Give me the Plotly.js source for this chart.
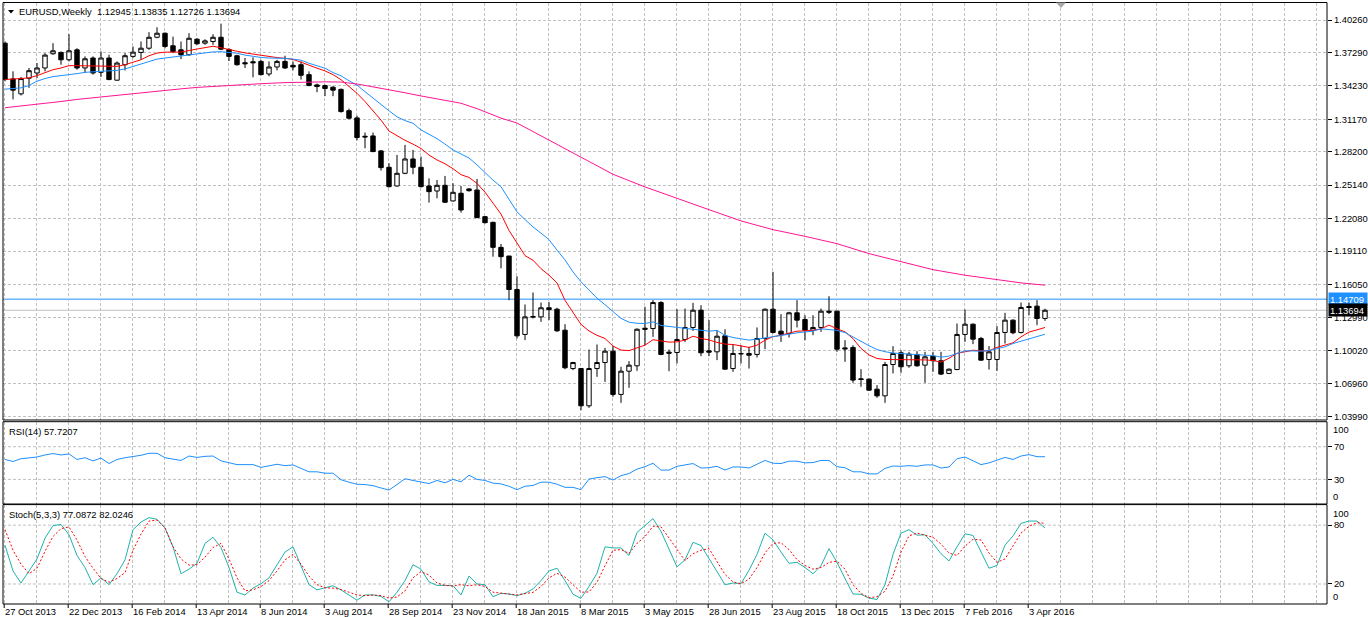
<!DOCTYPE html>
<html><head><meta charset="utf-8">
<script src="https://cdn.plot.ly/plotly-3.0.1.min.js"></script>
<style>html,body{margin:0;padding:0;background:#fff;overflow:hidden}#chart{width:1368px;height:617px}</style>
</head><body><div id="chart"></div>
<script>
// ---------------- DATA ----------------
const symbolName = 'EURUSD,Weekly';
const dateLabels = ['27 Oct 2013','22 Dec 2013','16 Feb 2014','13 Apr 2014','8 Jun 2014','3 Aug 2014','28 Sep 2014','23 Nov 2014','18 Jan 2015','8 Mar 2015','3 May 2015','28 Jun 2015','23 Aug 2015','18 Oct 2015','13 Dec 2015','7 Feb 2016','3 Apr 2016'];
const opens = [
1.3814,1.3487,1.3350,1.3493,1.3541,1.3587,1.3717,1.3729,1.3662,1.3753,
1.3587,1.3678,1.3547,1.3678,1.3475,1.3617,1.3693,1.3729,1.3768,1.3868,
1.3905,1.3790,1.3753,1.3708,1.3850,1.3814,1.3829,1.3868,1.3756,1.3699,
1.3635,1.3644,1.3647,1.3532,1.3596,1.3647,1.3611,1.3617,1.3526,1.3432,
1.3426,1.3411,1.3391,1.3196,1.3130,1.2962,1.2965,1.2828,1.2678,1.2507,
1.2623,1.2754,1.2678,1.2507,1.2461,1.2513,1.2370,1.2440,1.2480,1.2470,
1.2226,1.2174,1.1945,1.1866,1.1559,1.1148,1.1306,1.1309,1.1392,1.1379,
1.1187,1.0836,1.0836,1.0495,1.0836,1.0891,1.0995,1.0599,1.0812,1.0861,
1.1205,1.1202,1.1440,1.0986,1.0983,1.1102,1.1212,1.1370,1.0998,1.0989,
1.1135,1.0836,1.0974,1.0974,1.0965,1.1111,1.1379,1.1178,1.1157,1.1346,
1.1285,1.1187,1.1212,1.1361,1.1361,1.1025,1.1029,1.0742,1.0739,1.0647,
1.0586,1.0873,1.0980,1.0861,1.0965,1.0867,1.0949,1.0907,1.0791,1.0827,
1.1148,1.1242,1.1111,1.0919,1.0919,1.1166,1.1279,1.1166,1.1404,1.1407,
1.12945];
const highs = [
1.3830,1.3556,1.3505,1.3587,1.3632,1.3723,1.3814,1.3738,1.3896,1.3768,
1.3693,1.3693,1.3738,1.3708,1.3647,1.3723,1.3784,1.3829,1.3914,1.3959,
1.3911,1.3874,1.3829,1.3905,1.3859,1.3850,1.3896,1.3993,1.3768,1.3708,
1.3678,1.3684,1.3662,1.3647,1.3662,1.3699,1.3647,1.3647,1.3556,1.3444,
1.3435,1.3420,1.3399,1.3215,1.3150,1.2996,1.2996,1.2837,1.2715,1.2791,
1.2883,1.2837,1.2776,1.2577,1.2562,1.2599,1.2532,1.2507,1.2486,1.2571,
1.2232,1.2180,1.1976,1.1866,1.1681,1.1422,1.1532,1.1440,1.1446,1.1392,
1.1242,1.0897,1.0842,1.1010,1.1056,1.1025,1.1044,1.0852,1.0904,1.1202,
1.1401,1.1462,1.1453,1.1010,1.1379,1.1385,1.1437,1.1416,1.1279,1.1187,
1.1196,1.1056,1.1050,1.1035,1.1212,1.1385,1.1721,1.1334,1.1355,1.1462,
1.1324,1.1324,1.1385,1.1498,1.1364,1.1096,1.1050,1.0830,1.0745,1.0684,
1.0897,1.1041,1.1004,1.0989,1.0995,1.0989,1.0989,1.0989,1.0836,1.1248,
1.1376,1.1248,1.1126,1.1041,1.1224,1.1346,1.1285,1.1440,1.1440,1.1462,
1.13835];
const lows = [
1.3465,1.3299,1.3335,1.3405,1.3496,1.3556,1.3708,1.3617,1.3647,1.3571,
1.3541,1.3526,1.3505,1.3475,1.3472,1.3565,1.3678,1.3662,1.3753,1.3859,
1.3768,1.3723,1.3668,1.3699,1.3799,1.3799,1.3799,1.3750,1.3650,1.3608,
1.3587,1.3502,1.3520,1.3511,1.3565,1.3578,1.3565,1.3481,1.3420,1.3365,
1.3329,1.3329,1.3178,1.3117,1.2925,1.2852,1.2816,1.2648,1.2492,1.2501,
1.2614,1.2614,1.2492,1.2355,1.2394,1.2355,1.2364,1.2263,1.2455,1.2214,
1.2165,1.1860,1.1753,1.1462,1.1111,1.1096,1.1294,1.1263,1.1279,1.1172,
1.0830,1.0821,1.0455,1.0476,1.0760,1.0714,1.0577,1.0522,1.0660,1.0815,
1.1050,1.1126,1.0958,1.0812,1.0882,1.1080,1.1181,1.0949,1.0949,1.0913,
1.0827,1.0806,1.0882,1.0836,1.0937,1.1013,1.1157,1.1080,1.1120,1.1212,
1.1096,1.1141,1.1172,1.1334,1.0989,1.0897,1.0705,1.0669,1.0632,1.0568,
1.0522,1.0791,1.0797,1.0843,1.0852,1.0705,1.0806,1.0776,1.0785,1.0821,
1.1080,1.1059,1.0907,1.0827,1.0815,1.1065,1.1150,1.1157,1.1324,1.1233,
1.12726];
const closes = [
1.3481,1.3384,1.3490,1.3562,1.3587,1.3705,1.3744,1.3662,1.3744,1.3587,
1.3671,1.3541,1.3678,1.3481,1.3632,1.3699,1.3732,1.3768,1.3868,1.3905,
1.3784,1.3738,1.3708,1.3859,1.3808,1.3835,1.3868,1.3759,1.3693,1.3617,
1.3626,1.3635,1.3526,1.3596,1.3647,1.3587,1.3596,1.3520,1.3426,1.3417,
1.3399,1.3384,1.3188,1.3127,1.2950,1.2956,1.2822,1.2675,1.2501,1.2623,
1.2754,1.2678,1.2501,1.2455,1.2513,1.2358,1.2449,1.2287,1.2464,1.2217,
1.2171,1.1945,1.1860,1.1559,1.1135,1.1309,1.1312,1.1392,1.1376,1.1181,
1.0843,1.0891,1.0495,1.0836,1.0891,1.0995,1.0599,1.0812,1.0867,1.1196,
1.1196,1.1440,1.0965,1.0977,1.1102,1.1212,1.1370,1.0980,1.0986,1.1132,
1.0830,1.0974,1.0971,1.0958,1.1111,1.1379,1.1166,1.1150,1.1346,1.1279,
1.1187,1.1212,1.1361,1.1352,1.1013,1.1016,1.0730,1.0736,1.0638,1.0586,
1.0873,1.0974,1.0852,1.0968,1.0861,1.0943,1.0907,1.0785,1.0830,1.1148,
1.1242,1.1105,1.0913,1.0989,1.1166,1.1279,1.1163,1.1395,1.1395,1.1294,
1.13694];
// red moving average (fast)
const maFast = [
1.3481,1.3484,1.3487,1.3496,1.3517,1.3547,1.3571,1.3587,1.3608,1.3608,
1.3608,1.3608,1.3608,1.3602,1.3602,1.3617,1.3641,1.3662,1.3699,1.3723,
1.3732,1.3732,1.3732,1.3747,1.3762,1.3775,1.3786,1.3772,1.3759,1.3740,
1.3725,1.3714,1.3700,1.3690,1.3682,1.3675,1.3665,1.3640,1.3610,1.3585,
1.3560,1.3526,1.3480,1.3420,1.3355,1.3280,1.3200,1.3110,1.3010,1.2965,
1.2925,1.2890,1.2850,1.2790,1.2745,1.2710,1.2665,1.2610,1.2585,1.2530,
1.2450,1.2350,1.2250,1.2100,1.1980,1.1870,1.1827,1.1750,1.1690,1.1620,
1.1460,1.1345,1.1240,1.1180,1.1140,1.1111,1.1041,1.1005,1.1000,1.1025,
1.1050,1.1100,1.1090,1.1078,1.1080,1.1096,1.1132,1.1111,1.1098,1.1075,
1.1060,1.1056,1.1043,1.1029,1.1050,1.1095,1.1128,1.1140,1.1160,1.1178,
1.1181,1.1185,1.1200,1.1233,1.1200,1.1172,1.1110,1.1020,1.0960,1.0928,
1.0919,1.0919,1.0919,1.0919,1.0919,1.0915,1.0910,1.0895,1.0930,1.0975,
1.0989,1.1004,1.0998,1.0998,1.1030,1.1050,1.1071,1.1126,1.1170,1.1190,
1.1212];
// blue moving average (medium)
const maMid = [
1.3393,1.3396,1.3405,1.3426,1.3466,1.3490,1.3508,1.3517,1.3523,1.3535,
1.3547,1.3553,1.3556,1.3562,1.3565,1.3578,1.3602,1.3623,1.3647,1.3668,
1.3678,1.3687,1.3693,1.3702,1.3716,1.3726,1.3734,1.3736,1.3732,1.3722,
1.3705,1.3693,1.3683,1.3678,1.3678,1.3675,1.3668,1.3658,1.3630,1.3605,
1.3585,1.3545,1.3515,1.3470,1.3430,1.3370,1.3310,1.3250,1.3195,1.3140,
1.3105,1.3081,1.3020,1.2980,1.2940,1.2890,1.2837,1.2800,1.2763,1.2700,
1.2630,1.2560,1.2500,1.2380,1.2270,1.2200,1.2132,1.2075,1.2016,1.1920,
1.1830,1.1720,1.1630,1.1555,1.1480,1.1420,1.1360,1.1295,1.1260,1.1250,
1.1248,1.1263,1.1230,1.1222,1.1212,1.1205,1.1196,1.1188,1.1178,1.1185,
1.1140,1.1120,1.1108,1.1096,1.1105,1.1115,1.1126,1.1138,1.1150,1.1163,
1.1170,1.1178,1.1200,1.1190,1.1185,1.1165,1.1126,1.1080,1.1045,1.1010,
1.0990,1.0978,1.0972,1.0965,1.0958,1.0958,1.0955,1.0940,1.0950,1.0975,
1.0998,1.0997,1.0995,1.1000,1.1015,1.1035,1.1065,1.1085,1.1111,1.1130,
1.1150];
// magenta moving average (slow), read at these bars
const maSlowBars = [0,2,5,7,9,12,14,17,19,22,24,27,29,32,35,37,40,42,44,46,48,50,52,54,57,59,62,64,68,72,76,80,84,88,92,96,100,104,108,112,116,120,124,127,130];
const maSlow = [1.3223,1.3238,1.3262,1.3280,1.3299,1.3322,1.3341,1.3362,1.3378,1.3396,1.3409,1.3423,1.3430,1.3443,1.3453,1.3458,1.3460,1.3458,1.3440,1.3414,1.3390,1.3360,1.3331,1.3306,1.3264,1.3215,1.3128,1.3083,1.2925,1.2766,1.2614,1.2498,1.2391,1.2290,1.2187,1.2107,1.2046,1.1979,1.1888,1.1812,1.1741,1.1690,1.1651,1.1620,1.1599];
const rsi = [
54.4,51.9,55.3,56.5,57.4,59.9,61.6,59.9,61.2,54.4,
56.5,52.7,56.1,49.4,54.4,56.5,57.8,59.5,62.0,62.0,
56.5,55.3,53.2,58.6,56.9,58.2,58.6,52.7,50.6,48.1,
48.1,48.1,44.7,46.8,48.5,46.8,47.7,43.5,39.3,39.3,
37.6,37.6,29.6,26.6,24.1,23.7,22.4,19.5,17.0,23.7,
30.8,28.7,26.6,24.9,28.7,25.8,30.0,27.1,35.1,30.0,
28.7,25.4,24.5,21.6,17.4,21.6,22.6,26.6,26.6,24.1,
20.3,20.3,17.4,30.4,32.1,33.4,29.2,34.6,37.2,42.6,
45.6,49.8,41.4,41.4,46.0,48.1,49.4,43.9,44.3,46.0,
41.4,45.2,45.2,43.9,48.1,53.2,49.8,49.4,52.3,52.3,
50.2,50.6,53.2,53.2,45.6,44.3,39.3,39.3,36.7,36.7,
43.5,46.4,46.0,46.8,46.0,47.7,47.7,43.9,45.2,55.3,
57.4,52.7,48.1,50.2,53.6,56.9,54.4,58.6,60.3,57.8,
57.7207];
const stochMain = [
59.6,33.3,21.0,33.3,45.6,66.7,79.6,80.7,70.2,49.1,
36.8,19.3,26.3,19.3,30.5,44.6,75.4,83.2,87.7,86.0,
77.2,57.9,30.5,35.1,41.1,61.4,67.7,57.2,36.8,11.6,
8.8,15.8,20.3,26.3,39.6,52.6,57.9,38.6,19.3,14.0,
15.8,18.2,14.0,8.8,3.5,8.8,8.8,7.4,1.8,11.6,
23.5,39.6,35.1,22.1,18.6,18.6,18.2,8.8,28.1,20.0,
19.3,7.0,10.5,9.8,8.1,10.5,15.0,23.5,33.3,36.1,
23.5,9.5,5.3,17.5,30.9,57.9,56.8,56.8,49.1,72.6,
80.0,86.7,73.7,55.4,37.5,44.6,62.5,59.3,46.3,32.3,
19.3,21.0,20.3,34.0,50.2,71.9,64.9,52.6,41.1,42.1,
36.8,30.5,38.6,56.1,42.1,25.6,9.8,9.5,5.6,4.2,
19.3,50.2,71.9,75.4,69.8,70.2,61.4,50.9,43.5,57.9,
71.2,69.5,52.6,36.1,38.9,59.6,69.1,81.8,84.2,84.2,
77.0872];
const stochSignal = [
75.4,54.4,40.3,30.5,36.1,53.3,68.4,76.5,78.2,64.9,
48.1,36.1,25.6,21.8,25.6,31.6,54.4,70.9,84.2,85.3,
77.2,57.9,45.6,39.3,39.6,47.4,57.2,61.4,45.6,26.3,
13.0,14.0,17.5,23.5,33.3,44.6,50.2,40.3,28.1,19.3,
16.1,15.8,14.4,11.6,8.8,8.1,8.8,8.1,5.6,6.7,
13.0,26.3,32.6,29.1,21.0,18.6,17.9,19.3,18.2,19.3,
17.5,11.6,10.5,9.8,8.8,10.2,11.4,17.5,26.3,30.9,
27.0,19.3,11.6,11.9,21.8,38.6,54.4,55.1,51.2,61.4,
68.4,78.9,78.2,67.0,55.4,43.9,50.9,54.4,56.1,42.8,
29.8,22.1,20.3,24.9,36.8,51.6,61.4,62.1,55.1,44.9,
38.9,35.1,36.8,42.1,43.2,35.1,19.3,10.5,6.0,7.0,
12.6,28.1,52.6,69.1,71.9,69.8,67.7,60.7,51.6,49.1,
58.6,65.6,64.9,51.6,42.1,45.6,58.6,71.9,78.9,82.5,
82.0246];
const priceTicks = [1.40260,1.37290,1.34230,1.31170,1.28200,1.25140,1.22080,1.19110,1.16050,1.12990,1.10020,1.06960,1.03990];
const rsiLevels = [30,70];
const stochLevels = [20,80];
const scaleMin = 0, scaleMax = 100;
const markedLevel = 1.14709;
const bidPrice = closes[closes.length-1];

// ---------------- LAYOUT HELPERS ----------------
const W = 1368, H = 617;
const px = v => v / W;
const py = v => 1 - v / H;
const FONT = 'Liberation Sans, Arial, sans-serif';
const FS = 9.4;
const GRID = '#c0c0c0';
const GDASH = '3px,2px';
const L = 3, R = 1327;            // pane left/right edges (px)
const mainTop = 2.5, mainBot = 420;
const rsiTop = 421.7, rsiBot = 504;
const stTop = 504.6, stBot = 604;

const idx = opens.map((_, i) => i);
const n = idx.length;
const last = n - 1;

const traces = [
  {type:'candlestick', x: idx, open: opens, high: highs, low: lows, close: closes,
   xaxis:'x', yaxis:'y', whiskerwidth:0, hoverinfo:'skip',
   increasing:{line:{color:'#000000', width:1}, fillcolor:'#ffffff'},
   decreasing:{line:{color:'#000000', width:1}, fillcolor:'#000000'}},
  {type:'scatter', mode:'lines', x: idx, y: maFast, xaxis:'x', yaxis:'y', line:{color:'#ff0000', width:1}, hoverinfo:'skip'},
  {type:'scatter', mode:'lines', x: idx, y: maMid, xaxis:'x', yaxis:'y', line:{color:'#1e90ff', width:1}, hoverinfo:'skip'},
  {type:'scatter', mode:'lines', x: maSlowBars, y: maSlow, xaxis:'x', yaxis:'y', line:{color:'#ff1493', width:1}, hoverinfo:'skip'},
  {type:'scatter', mode:'lines', x: idx, y: rsi, xaxis:'x', yaxis:'y2', line:{color:'#1e90ff', width:1}, hoverinfo:'skip'},
  {type:'scatter', mode:'lines', x: idx, y: stochMain, xaxis:'x', yaxis:'y3', line:{color:'#20b2aa', width:1}, hoverinfo:'skip'},
  {type:'scatter', mode:'lines', x: idx, y: stochSignal, xaxis:'x', yaxis:'y3', line:{color:'#ff0000', width:1, dash:'2px,2px'}, hoverinfo:'skip'}
];

const gridVals = [];
for (let k = 0; k * 4 <= 165; k++) gridVals.push(k * 4 - 0.1);

const yCommon = {
  side:'right', anchor:'x', showline:false, zeroline:false, fixedrange:true,
  ticks:'outside', ticklen:4, tickwidth:1, tickcolor:'#000',
  tickfont:{family:FONT, size:FS, color:'#000'}
};

const shapes = [];
// pane frames
[[mainTop, mainBot], [rsiTop, rsiBot], [stTop, stBot]].forEach(([t, b]) => {
  shapes.push({type:'rect', xref:'paper', yref:'paper', x0:px(L), x1:px(R), y0:py(b), y1:py(t),
    line:{color:'#000', width:1}, fillcolor:'rgba(0,0,0,0)', layer:'above'});
});
// indicator level lines
rsiLevels.forEach(v => shapes.push({type:'line', xref:'paper', yref:'y2', x0:px(L), x1:px(R), y0:v, y1:v,
  line:{color:GRID, width:1, dash:GDASH}, layer:'below'}));
stochLevels.forEach(v => shapes.push({type:'line', xref:'paper', yref:'y3', x0:px(L), x1:px(R), y0:v, y1:v,
  line:{color:GRID, width:1, dash:GDASH}, layer:'below'}));
// horizontal price lines
shapes.push({type:'line', xref:'paper', yref:'y', x0:px(L), x1:px(R), y0:markedLevel, y1:markedLevel,
  line:{color:'#1e90ff', width:1}, layer:'below'});
shapes.push({type:'line', xref:'paper', yref:'y', x0:px(L), x1:px(R), y0:bidPrice, y1:bidPrice,
  line:{color:'#c0c0c0', width:1}, layer:'below'});
// date tick marks
dateLabels.forEach((_, k) => shapes.push({type:'line', xref:'x', yref:'paper', x0:8*k-0.1, x1:8*k-0.1,
  y0:py(stBot), y1:py(stBot+4), line:{color:'#000', width:1}}));
// header triangle and shift marker
shapes.push({type:'path', xref:'paper', yref:'paper',
  path:`M ${px(8)} ${py(10)} L ${px(14)} ${py(10)} L ${px(11)} ${py(13.5)} Z`,
  fillcolor:'#000', line:{color:'#000', width:0}});
shapes.push({type:'path', xref:'paper', yref:'paper',
  path:`M ${px(1056)} ${py(2.5)} L ${px(1066)} ${py(2.5)} L ${px(1061)} ${py(8)} Z`,
  fillcolor:'#a9a9a9', line:{color:'#a9a9a9', width:0}});

const annotations = [];
const f5 = v => v.toFixed(5);
const txt = {family:FONT, size:FS, color:'#000'};
annotations.push({xref:'paper', yref:'paper', x:px(18), y:py(12), xanchor:'left', yanchor:'middle', showarrow:false, borderpad:0,
  text:`${symbolName}  ${f5(opens[last])} ${f5(highs[last])} ${f5(lows[last])} ${f5(closes[last])}`, font:txt});
annotations.push({xref:'paper', yref:'paper', x:px(8), y:py(rsiTop+10), xanchor:'left', yanchor:'middle', showarrow:false, borderpad:0,
  text:`RSI(14) ${rsi[last].toFixed(4)}`, font:txt});
annotations.push({xref:'paper', yref:'paper', x:px(8), y:py(stTop+10), xanchor:'left', yanchor:'middle', showarrow:false, borderpad:0,
  text:`Stoch(5,3,3) ${stochMain[last].toFixed(4)} ${stochSignal[last].toFixed(4)}`, font:txt});
dateLabels.forEach((t, k) => annotations.push({xref:'x', yref:'paper', x:8*k-0.1, y:py(611.5), xanchor:'left', yanchor:'middle',
  showarrow:false, borderpad:0, text:t, font:txt}));
// scale extremes of the indicator windows, drawn inside the pane
['y2','y3'].forEach(ax => {
  annotations.push({xref:'paper', yref:ax, x:px(1332), y:scaleMax, xanchor:'left', yanchor:'top', showarrow:false,
    borderpad:0, yshift:-1, text:String(scaleMax), font:txt});
  annotations.push({xref:'paper', yref:ax, x:px(1332), y:scaleMin, xanchor:'left', yanchor:'bottom', showarrow:false,
    borderpad:0, yshift:1, text:String(scaleMin), font:txt});
});
annotations.push({xref:'paper', yref:'y', x:px(1328), y:markedLevel, xanchor:'left', yanchor:'middle', showarrow:false,
  text:f5(markedLevel), bgcolor:'#1e90ff', width:36, height:10, borderpad:1, align:'left',
  font:{family:FONT, size:FS, color:'#ffffff'}});
annotations.push({xref:'paper', yref:'y', x:px(1328), y:bidPrice, xanchor:'left', yanchor:'middle', showarrow:false,
  text:f5(bidPrice), bgcolor:'#000000', width:36, height:10, borderpad:1, align:'left',
  font:{family:FONT, size:FS, color:'#ffffff'}});

const layout = {
  width:W, height:H, margin:{l:0, r:0, t:0, b:0, pad:0},
  paper_bgcolor:'#ffffff', plot_bgcolor:'#ffffff', showlegend:false,
  boxgap:0.45, boxgroupgap:0,
  font:txt,
  xaxis:{domain:[px(L), px(R)], range:[-0.25, 165.25], anchor:'y3', type:'linear',
    tickmode:'array', tickvals:gridVals, showticklabels:false, ticks:'',
    showgrid:true, gridcolor:GRID, griddash:GDASH, gridwidth:1,
    zeroline:false, showline:false, fixedrange:true, rangeslider:{visible:false}},
  yaxis:Object.assign({}, yCommon, {domain:[py(mainBot), py(mainTop)], range:[1.03650, 1.41862],
    tickmode:'array', tickvals:priceTicks, ticktext:priceTicks.map(f5),
    showgrid:true, gridcolor:GRID, griddash:GDASH, gridwidth:1}),
  yaxis2:Object.assign({}, yCommon, {domain:[py(rsiBot), py(rsiTop)], range:[-0.1, 100.6],
    tickmode:'array', tickvals:rsiLevels, ticktext:rsiLevels.map(String), showgrid:false}),
  yaxis3:Object.assign({}, yCommon, {domain:[py(stBot), py(stTop)], range:[-0.41, 101.0],
    tickmode:'array', tickvals:stochLevels, ticktext:stochLevels.map(String), showgrid:false}),
  shapes: shapes,
  annotations: annotations
};

Plotly.newPlot('chart', traces, layout, {staticPlot:true, displayModeBar:false});
</script>
</body></html>
